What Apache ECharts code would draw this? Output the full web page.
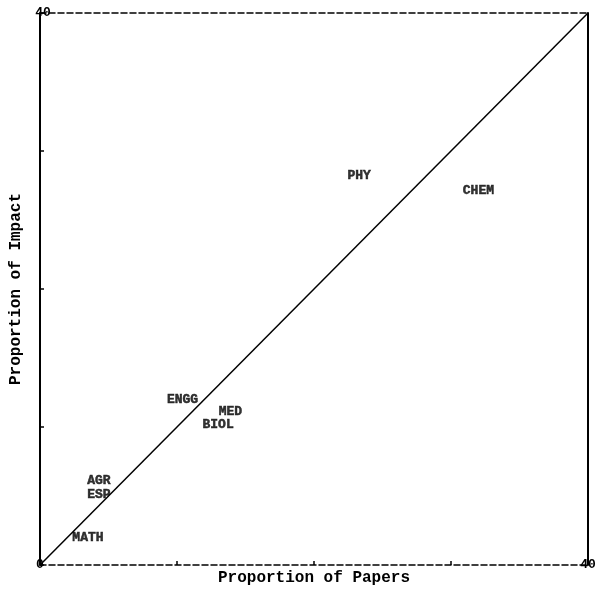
<!DOCTYPE html>
<html>
<head>
<meta charset="utf-8">
<script src="https://cdn.jsdelivr.net/npm/echarts@6/dist/echarts.min.js"></script>
<style>
html,body{margin:0;padding:0;background:#fff;}
#chart{width:595px;height:589px;}
</style>
</head>
<body>
<div id="chart"></div>
<script>
// fields and their (papers, impact) proportions
var fields = ['PHY', 'CHEM', 'ENGG', 'MED', 'BIOL', 'AGR', 'ESP', 'MATH'];
var papers = [23.3, 32.0, 10.4, 13.9, 13.0, 4.3, 4.3, 3.5];
var impact = [28.2, 27.1, 12.0, 11.1, 10.2, 6.1, 5.1, 2.0];
var diagonal = [[0, 0], [40, 40]];
var axisMin = 0, axisMax = 40, tickStep = 10;

var font = '"Liberation Mono", "DejaVu Sans Mono", monospace';

var pts = [];
for (var i = 0; i < fields.length; i++) {
    pts.push({name: fields[i], value: [papers[i], impact[i]]});
}

var myChart = echarts.init(document.getElementById('chart'));
myChart.setOption({
    backgroundColor: '#fff',
    animation: false,
    grid: {left: 40, right: 7, top: 13, bottom: 24, containLabel: false, outerBoundsMode: 'none'},
    xAxis: [{
        type: 'value',
        min: axisMin, max: axisMax, interval: tickStep,
        name: 'Proportion of Papers',
        nameLocation: 'middle',
        nameGap: 13,
        nameMoveOverlap: false,
        nameTextStyle: {fontFamily: font, fontWeight: 'bold', fontSize: 16, color: '#000', verticalAlign: 'middle'},
        axisLine: {show: true, onZero: false, lineStyle: {color: '#000', width: 1.5, type: [6, 3]}},
        axisTick: {show: true, inside: true, length: 4, lineStyle: {color: '#000', width: 1.5}},
        axisLabel: {
            margin: 0, verticalAlign: 'middle',
            fontFamily: font, fontWeight: 'bold', fontSize: 13, color: '#000',
            formatter: function (v) { return (v === axisMin || v === axisMax) ? String(v) : ''; }
        },
        splitLine: {show: false}
    }, {
        type: 'value', position: 'top',
        min: axisMin, max: axisMax,
        axisLine: {show: true, onZero: false, lineStyle: {color: '#000', width: 1.5, type: [6, 3]}},
        axisTick: {show: false}, axisLabel: {show: false}, splitLine: {show: false}
    }],
    yAxis: [{
        type: 'value',
        min: axisMin, max: axisMax, interval: tickStep,
        name: 'Proportion of Impact',
        nameLocation: 'middle',
        nameGap: 16,
        nameMoveOverlap: false,
        nameTextStyle: {fontFamily: font, fontWeight: 'bold', fontSize: 16, color: '#000'},
        axisLine: {show: true, onZero: false, lineStyle: {color: '#000', width: 2}},
        axisTick: {show: true, inside: true, length: 4, lineStyle: {color: '#000', width: 1.5}},
        axisLabel: {
            margin: -3, align: 'center',
            fontFamily: font, fontWeight: 'bold', fontSize: 13, color: '#000',
            formatter: function (v) { return v === axisMax ? String(v) : ''; }
        },
        splitLine: {show: false}
    }, {
        type: 'value', position: 'right',
        min: axisMin, max: axisMax,
        axisLine: {show: true, onZero: false, lineStyle: {color: '#000', width: 2}},
        axisTick: {show: false}, axisLabel: {show: false}, splitLine: {show: false}
    }],
    series: [{
        type: 'line',
        data: diagonal,
        symbol: 'none',
        lineStyle: {color: '#000', width: 1.5},
        z: 2
    }, {
        type: 'scatter',
        data: pts,
        symbolSize: 0,
        label: {
            show: true,
            position: 'inside',
            formatter: '{b}',
            fontFamily: font, fontWeight: 'bold', fontSize: 13, color: '#000',
            textBorderColor: '#000', textBorderWidth: 0.5
        },
        z: 3
    }]
});
</script>
</body>
</html>
